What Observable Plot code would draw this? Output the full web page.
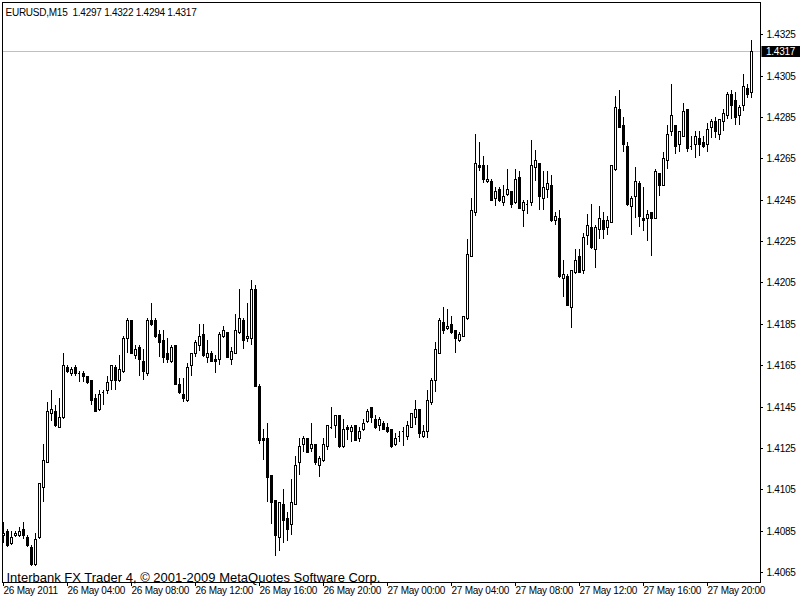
<!DOCTYPE html>
<html><head><meta charset="utf-8">
<script src="https://cdn.jsdelivr.net/npm/d3@7"></script>
<script src="https://cdn.jsdelivr.net/npm/@observablehq/plot@0.6"></script>
<style>
html,body{margin:0;padding:0;background:#fff;}
#chart svg{display:block;}
#chart text{white-space:pre;}
</style></head><body><div id="chart"></div>
<script>
const symbol = "EURUSD,M15";
const watermark = "Interbank FX Trader 4, \u00A9 2001-2009 MetaQuotes Software Corp.";

const open = [
1.4083,1.4085,1.4079,1.4083,1.4083,1.4086,1.4082,1.4077,1.4069,1.4082,
1.4106,1.4118,1.4142,1.4143,1.4135,1.4140,1.4164,1.4161,1.4164,1.4161,
1.4161,1.4160,1.4158,1.4149,1.4144,1.4152,1.4153,1.4158,1.4164,1.4158,
1.4162,1.4178,1.4187,1.4170,1.4174,1.4167,1.4161,1.4187,1.4187,1.4180,
1.4177,1.4171,1.4167,1.4175,1.4156,1.4151,1.4148,1.4165,1.4171,1.4175,
1.4180,1.4169,1.4171,1.4168,1.4168,1.4179,1.4181,1.4168,1.4171,1.4181,
1.4187,1.4178,1.4178,1.4202,1.4155,1.4130,1.4130,1.4112,1.4100,1.4082,
1.4098,1.4091,1.4088,1.4098,1.4118,1.4127,1.4130,1.4125,1.4127,1.4117,
1.4119,1.4126,1.4135,1.4136,1.4141,1.4126,1.4135,1.4133,1.4136,1.4130,
1.4134,1.4138,1.4145,1.4139,1.4136,1.4137,1.4135,1.4134,1.4127,1.4131,
1.4133,1.4131,1.4135,1.4140,1.4144,1.4131,1.4133,1.4147,1.4158,1.4171,
1.4186,1.4183,1.4185,1.4182,1.4177,1.4179,1.4188,1.4218,1.4239,1.4262,
1.4262,1.4254,1.4254,1.4246,1.4250,1.4244,1.4248,1.4249,1.4244,1.4256,
1.4240,1.4243,1.4244,1.4261,1.4263,1.4246,1.4250,1.4252,1.4235,1.4236,
1.4207,1.4208,1.4193,1.4210,1.4218,1.4211,1.4228,1.4232,1.4221,1.4231,
1.4235,1.4232,1.4234,1.4260,1.4289,1.4281,1.4271,1.4242,1.4247,1.4253,
1.4236,1.4236,1.4239,1.4236,1.4258,1.4252,1.4264,1.4278,1.4281,1.4272,
1.4276,1.4289,1.4271,1.4272,1.4275,1.4273,1.4272,1.4280,1.4283,1.4277,
1.4283,1.4286,1.4296,1.4293,1.4286,1.4291,1.4299,1.4297];

const high = [
1.4089,1.4086,1.4085,1.4085,1.4087,1.4089,1.4083,1.4078,1.4084,1.4108,
1.4127,1.4147,1.4153,1.4146,1.4149,1.4171,1.4165,1.4164,1.4165,1.4162,
1.4162,1.4160,1.4158,1.4151,1.4153,1.4153,1.4160,1.4165,1.4165,1.4170,
1.4179,1.4188,1.4187,1.4175,1.4175,1.4173,1.4188,1.4195,1.4188,1.4182,
1.4182,1.4178,1.4175,1.4175,1.4159,1.4159,1.4166,1.4171,1.4177,1.4185,
1.4185,1.4177,1.4172,1.4170,1.4181,1.4184,1.4181,1.4174,1.4190,1.4202,
1.4188,1.4195,1.4206,1.4204,1.4156,1.4134,1.4137,1.4112,1.4100,1.4099,
1.4105,1.4094,1.4110,1.4121,1.4130,1.4131,1.4130,1.4137,1.4127,1.4121,
1.4130,1.4136,1.4145,1.4141,1.4141,1.4139,1.4136,1.4136,1.4136,1.4135,
1.4139,1.4144,1.4145,1.4141,1.4140,1.4138,1.4137,1.4134,1.4132,1.4133,
1.4135,1.4138,1.4142,1.4148,1.4144,1.4136,1.4153,1.4159,1.4176,1.4188,
1.4193,1.4192,1.4189,1.4182,1.4181,1.4189,1.4226,1.4246,1.4277,1.4273,
1.4266,1.4262,1.4255,1.4251,1.4251,1.4252,1.4260,1.4249,1.4260,1.4259,
1.4245,1.4245,1.4274,1.4269,1.4263,1.4259,1.4259,1.4257,1.4239,1.4240,
1.4216,1.4209,1.4211,1.4221,1.4221,1.4229,1.4238,1.4243,1.4233,1.4242,
1.4239,1.4237,1.4262,1.4295,1.4298,1.4285,1.4273,1.4247,1.4261,1.4254,
1.4251,1.4240,1.4239,1.4260,1.4258,1.4268,1.4281,1.4301,1.4281,1.4278,
1.4292,1.4289,1.4276,1.4278,1.4278,1.4276,1.4282,1.4284,1.4285,1.4284,
1.4289,1.4297,1.4298,1.4297,1.4291,1.4306,1.4301,1.4322];

const low = [
1.4079,1.4077,1.4078,1.4082,1.4082,1.4081,1.4077,1.4068,1.4068,1.4081,
1.4099,1.4118,1.4138,1.4135,1.4135,1.4139,1.4161,1.4160,1.4160,1.4157,
1.4157,1.4156,1.4146,1.4143,1.4143,1.4146,1.4151,1.4153,1.4153,1.4157,
1.4161,1.4171,1.4171,1.4168,1.4160,1.4158,1.4160,1.4184,1.4178,1.4169,
1.4166,1.4166,1.4166,1.4156,1.4151,1.4147,1.4147,1.4160,1.4169,1.4172,
1.4169,1.4166,1.4167,1.4161,1.4165,1.4178,1.4169,1.4165,1.4171,1.4180,
1.4173,1.4176,1.4175,1.4155,1.4127,1.4119,1.4099,1.4088,1.4073,1.4075,
1.4079,1.4080,1.4083,1.4098,1.4112,1.4123,1.4123,1.4123,1.4117,1.4111,
1.4118,1.4124,1.4134,1.4130,1.4125,1.4125,1.4129,1.4128,1.4129,1.4128,
1.4133,1.4137,1.4137,1.4134,1.4133,1.4134,1.4132,1.4125,1.4126,1.4128,
1.4126,1.4129,1.4135,1.4136,1.4130,1.4130,1.4130,1.4146,1.4152,1.4171,
1.4180,1.4182,1.4180,1.4171,1.4176,1.4179,1.4187,1.4218,1.4237,1.4259,
1.4253,1.4253,1.4245,1.4242,1.4244,1.4242,1.4247,1.4241,1.4243,1.4241,
1.4232,1.4238,1.4242,1.4254,1.4240,1.4240,1.4246,1.4234,1.4233,1.4207,
1.4198,1.4194,1.4183,1.4209,1.4210,1.4209,1.4223,1.4221,1.4212,1.4226,
1.4226,1.4228,1.4234,1.4259,1.4280,1.4268,1.4242,1.4228,1.4236,1.4232,
1.4230,1.4225,1.4218,1.4236,1.4247,1.4252,1.4260,1.4276,1.4267,1.4268,
1.4276,1.4268,1.4269,1.4265,1.4266,1.4270,1.4268,1.4275,1.4275,1.4274,
1.4278,1.4284,1.4284,1.4281,1.4281,1.4288,1.4294,1.4294];

const close = [
1.4084,1.4078,1.4082,1.4084,1.4085,1.4083,1.4078,1.4069,1.4081,1.4108,
1.4119,1.4143,1.4144,1.4136,1.4140,1.4165,1.4162,1.4163,1.4161,1.4161,
1.4160,1.4157,1.4148,1.4143,1.4151,1.4152,1.4157,1.4165,1.4158,1.4163,
1.4178,1.4187,1.4171,1.4173,1.4168,1.4162,1.4187,1.4185,1.4179,1.4176,
1.4169,1.4168,1.4174,1.4156,1.4152,1.4149,1.4164,1.4171,1.4176,1.4179,
1.4170,1.4171,1.4167,1.4167,1.4180,1.4182,1.4169,1.4172,1.4182,1.4188,
1.4177,1.4179,1.4202,1.4155,1.4129,1.4129,1.4111,1.4099,1.4083,1.4099,
1.4090,1.4086,1.4099,1.4117,1.4126,1.4130,1.4123,1.4127,1.4118,1.4120,
1.4127,1.4136,1.4135,1.4141,1.4126,1.4134,1.4134,1.4135,1.4129,1.4133,
1.4137,1.4143,1.4140,1.4135,1.4139,1.4134,1.4133,1.4126,1.4130,1.4131,
1.4133,1.4136,1.4142,1.4144,1.4132,1.4133,1.4148,1.4158,1.4173,1.4187,
1.4182,1.4184,1.4181,1.4178,1.4180,1.4189,1.4219,1.4240,1.4263,1.4261,
1.4255,1.4255,1.4245,1.4249,1.4245,1.4247,1.4250,1.4243,1.4255,1.4241,
1.4244,1.4243,1.4262,1.4264,1.4247,1.4251,1.4253,1.4235,1.4237,1.4208,
1.4209,1.4194,1.4211,1.4216,1.4210,1.4227,1.4233,1.4222,1.4232,1.4236,
1.4231,1.4235,1.4262,1.4290,1.4280,1.4272,1.4243,1.4246,1.4254,1.4237,
1.4235,1.4238,1.4236,1.4259,1.4252,1.4265,1.4277,1.4286,1.4271,1.4278,
1.4288,1.4270,1.4271,1.4276,1.4272,1.4271,1.4279,1.4283,1.4278,1.4284,
1.4287,1.4296,1.4291,1.4285,1.4290,1.4300,1.4296,1.4317];

const timeTickBars = [0, 16, 32, 48, 64, 80, 96, 112, 128, 144, 160, 176];
const timeLabels = ["26 May 2011", "26 May 04:00", "26 May 08:00", "26 May 12:00",
  "26 May 16:00", "26 May 20:00", "27 May 00:00", "27 May 04:00",
  "27 May 08:00", "27 May 12:00", "27 May 16:00", "27 May 20:00"];
const priceTicks = [1.4065, 1.4085, 1.4105, 1.4125, 1.4145, 1.4165, 1.4185,
  1.4205, 1.4225, 1.4245, 1.4265, 1.4285, 1.4305, 1.4325];

const bars = open.map((o, i) => ({i, open: o, high: high[i], low: low[i], close: close[i]}));
const upBars = bars.filter(d => d.close > d.open);
const downBars = bars.filter(d => d.close < d.open);
const dojiBars = bars.filter(d => d.close === d.open);
const last = bars[bars.length - 1];
const fmt = d3.format(".4f");
const header = `${symbol}  ${fmt(last.open)} ${fmt(last.high)} ${fmt(last.low)} ${fmt(last.close)}`;

const font = "'Liberation Sans', Arial, sans-serif";

const chart = Plot.plot({
  width: 800, height: 600,
  marginLeft: 2, marginRight: 40, marginTop: 2, marginBottom: 18,
  style: {fontFamily: font, fontSize: "10px", background: "#fff", color: "#000", letterSpacing: "-0.25px"},
  x: {domain: [-0.25, 189.25], axis: null, round: true},
  y: {domain: [1.40602, 1.43406], axis: null, round: true},
  marks: [
    Plot.ruleY([last.close], {stroke: "#c0c0c0"}),
    Plot.ruleX(bars, {x: "i", y1: "low", y2: "high", stroke: "#000"}),
    Plot.rect(upBars, {x1: d => d.i - 0.25, x2: d => d.i + 0.25, y1: "open", y2: "close", fill: "#fff", stroke: "#000", dx: 0.5, dy: 0.5, shapeRendering: "crispEdges"}),
    Plot.rect(downBars, {x1: d => d.i - 0.25, x2: d => d.i + 0.25, y1: "open", y2: "close", fill: "#000", stroke: "#000", dx: 0.5, dy: 0.5, shapeRendering: "crispEdges"}),
    Plot.ruleY(dojiBars, {y: "open", x1: d => d.i - 0.25, x2: d => d.i + 0.25, stroke: "#000"}),
    Plot.frame({stroke: "#000"}),
    Plot.axisY(priceTicks, {anchor: "right", tickFormat: fmt, tickSize: 2, tickPadding: 4, label: null, fontSize: 10}),
    Plot.axisX(timeTickBars, {anchor: "bottom", tickFormat: d => timeLabels[timeTickBars.indexOf(d)], tickSize: 4, tickPadding: 0, textAnchor: "start", dx: 0, label: null, fontSize: 10}),
    Plot.text([header], {frameAnchor: "top-left", dx: 3, dy: 6, textAnchor: "start", lineAnchor: "top", fontSize: 10}),
    Plot.text([watermark], {frameAnchor: "bottom-left", dx: 4, dy: -1, textAnchor: "start", lineAnchor: "bottom", fontSize: 13})
  ]
});

const svg = d3.select(chart);
// watermark uses normal letter spacing
svg.selectAll("text").filter(function() { return this.textContent === watermark; })
  .style("letter-spacing", "0px");

// current-price marker on the right axis, positioned with the plot's own y scale
const yPos = chart.scale("y").apply(last.close);
const xEdge = chart.scale("x").range[1];
const g = svg.append("g");
g.append("rect").attr("x", xEdge + 1.5).attr("y", yPos - 5).attr("width", 800 - xEdge - 1.5).attr("height", 11).attr("fill", "#000");
g.append("text").attr("x", xEdge + 6).attr("y", yPos + 0.5).attr("dy", "0.32em")
  .attr("text-anchor", "start").attr("fill", "#fff").attr("font-size", 10)
  .attr("font-family", font).text(fmt(last.close));

document.getElementById("chart").appendChild(chart);
</script></body></html>
